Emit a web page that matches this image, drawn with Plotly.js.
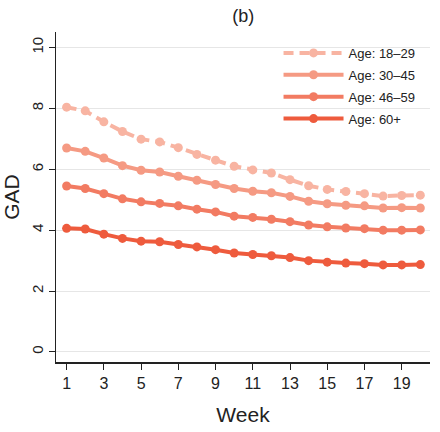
<!DOCTYPE html>
<html>
<head>
<meta charset="utf-8">
<script src="https://cdn.plot.ly/plotly-3.0.1.min.js"></script>
<style>html,body{margin:0;padding:0;background:#fff;}#chart{width:440px;height:432px;}</style>
</head>
<body>
<div id="chart"></div>
<script>
const weeks = [1,2,3,4,5,6,7,8,9,10,11,12,13,14,15,16,17,18,19,20];
const seriesNames = ["Age: 18–29", "Age: 30–45", "Age: 46–59", "Age: 60+"];
const age18_29 = [8.04, 7.92, 7.56, 7.24, 6.99, 6.90, 6.71, 6.49, 6.30, 6.10, 5.98, 5.88, 5.66, 5.46, 5.34, 5.27, 5.20, 5.12, 5.14, 5.15];
const age30_45 = [6.70, 6.59, 6.37, 6.12, 5.97, 5.91, 5.77, 5.64, 5.50, 5.37, 5.28, 5.23, 5.11, 4.95, 4.87, 4.82, 4.80, 4.73, 4.74, 4.73];
const age46_59 = [5.45, 5.37, 5.20, 5.03, 4.93, 4.88, 4.80, 4.69, 4.60, 4.46, 4.42, 4.36, 4.28, 4.17, 4.11, 4.07, 4.05, 4.00, 4.00, 4.01];
const age60p   = [4.06, 4.04, 3.87, 3.73, 3.64, 3.62, 3.53, 3.45, 3.36, 3.25, 3.20, 3.16, 3.10, 3.00, 2.95, 2.92, 2.90, 2.86, 2.86, 2.87];
const xTickVals = [1,3,5,7,9,11,13,15,17,19];
const yTickVals = [0,2,4,6,8,10];

const allSeries = [age18_29, age30_45, age46_59, age60p];
const colors = ["#f8b4a2", "#f59a83", "#f27b62", "#ee5b3d"];
const dashes = ["10px,6px", "solid", "solid", "solid"];

const traces = allSeries.map((vals, i) => ({
  x: weeks, y: vals, name: seriesNames[i], legendgroup: "g" + i,
  type: "scatter", mode: "lines+markers",
  line: {color: colors[i], width: 4, dash: dashes[i]},
  marker: {color: colors[i], size: 9}
}));

const font = "'Liberation Sans', Arial, sans-serif";
const layout = {
  width: 440, height: 432,
  margin: {l: 56, r: 10, t: 32, b: 70},
  paper_bgcolor: "#fff", plot_bgcolor: "#fff",
  font: {family: font, color: "#222", size: 14},
  title: {text: "(b)", x: 0.553, xanchor: "center", y: 0.963, yanchor: "middle", font: {size: 18, family: font, color: "#222"}},
  xaxis: {
    range: [0.43, 20.52], tickvals: xTickVals, ticktext: xTickVals.map(String),
    showgrid: false, zeroline: false, showline: true, linecolor: "#222", linewidth: 1.5,
    ticks: "outside", ticklen: 6, tickcolor: "#222", tickfont: {size: 16, family: font, color: "#222"},
    title: {text: "Week", font: {size: 21, family: font, color: "#222"}, standoff: 16}
  },
  yaxis: {
    range: [-0.33, 10.51], tickvals: yTickVals, ticktext: yTickVals.map(String), tickangle: -90,
    showgrid: true, gridcolor: "#e6e6e6", gridwidth: 1, zeroline: false,
    showline: true, linecolor: "#222", linewidth: 1.5,
    ticks: "outside", ticklen: 6, tickcolor: "#222", tickfont: {size: 15, family: font, color: "#222"},
    title: {text: "GAD", font: {size: 21, family: font, color: "#222"}, standoff: 6}
  },
  legend: {
    x: 0.595, y: 0.982, xanchor: "left", yanchor: "top",
    bgcolor: "rgba(0,0,0,0)", itemwidth: 60, tracegroupgap: 2, traceorder: "grouped",
    font: {size: 13, family: font, color: "#222"}
  },
  showlegend: true
};

Plotly.newPlot("chart", traces, layout, {displayModeBar: false, staticPlot: true});
</script>
</body>
</html>
